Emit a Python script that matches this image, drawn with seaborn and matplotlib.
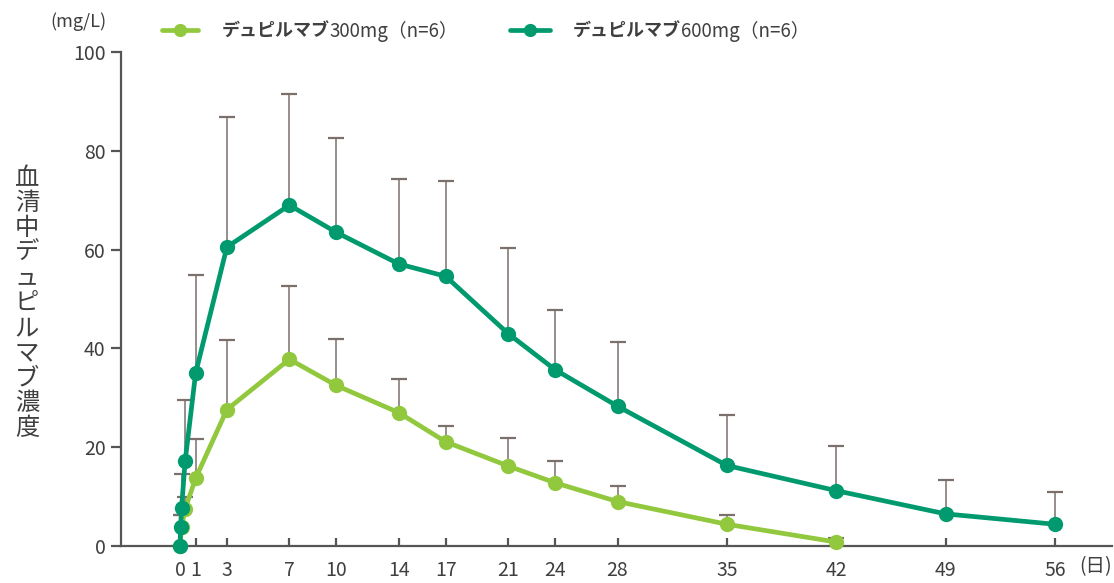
import numpy as np
import pandas as pd
import matplotlib
matplotlib.use("Agg")
import matplotlib.pyplot as plt
from matplotlib.lines import Line2D
import seaborn as sns

# Serum dupilumab concentration (mg/L), mean with upper SD
days_300 = [0, 0.1, 0.33, 1, 3, 7, 10, 14, 17, 21, 24, 28, 35, 42]
mean_300 = [0, 3.8, 7.5, 13.7, 27.6, 37.8, 32.5, 27.0, 21.1, 16.2, 12.8, 9.0, 4.4, 0.8]
sd_300 = [0, 2.5, 2.4, 7.9, 14.2, 14.8, 9.4, 6.8, 3.1, 5.7, 4.4, 3.1, 1.9, 0.8]

days_600 = [0, 0.04, 0.1, 0.33, 1, 3, 7, 10, 14, 17, 21, 24, 28, 35, 42, 49, 56]
mean_600 = [0, 3.8, 7.7, 17.2, 35.0, 60.5, 69.0, 63.5, 57.1, 54.6, 43.0, 35.7, 28.3, 16.3, 11.2, 6.5, 4.4]
sd_600 = [0, 2.5, 6.9, 12.3, 19.9, 26.3, 22.5, 19.1, 17.2, 19.3, 17.3, 12.1, 13.0, 10.2, 9.0, 6.9, 6.5]

x_ticks = [0, 1, 3, 7, 10, 14, 17, 21, 24, 28, 35, 42, 49, 56]
y_ticks = [0, 20, 40, 60, 80, 100]

dose_names = ["300mg（n=6）", "600mg（n=6）"]
drug_name = "デュピルマブ"
y_label = "血清中デュピルマブ濃度"
y_unit = "(mg/L)"
x_unit = "(日)"

c300 = "#92c83e"
c600 = "#009a6e"
err_c = "#7b706c"
txt_c = "#3f3f3f"
axis_c = "#555555"

sns.set_theme(style="white")
plt.rcParams["font.family"] = ["Noto Sans CJK JP", "DejaVu Sans"]

df = pd.concat([
    pd.DataFrame({"day": days_300, "conc": mean_300, "sd": sd_300, "dose": dose_names[0]}),
    pd.DataFrame({"day": days_600, "conc": mean_600, "sd": sd_600, "dose": dose_names[1]}),
], ignore_index=True)
df["upper"] = df["conc"] + df["sd"]

W, H = 1114, 583
fig = plt.figure(figsize=(W / 100, H / 100), dpi=100)
ax = fig.add_axes([121 / W, (H - 546) / H, (1112 - 121) / W, (546 - 52) / H])

# upper-only SD bars behind the lines
ax.vlines(df["day"], df["conc"], df["upper"], colors=err_c, linewidth=1.1, zorder=1)
ax.plot(df["day"], df["upper"], linestyle="none", marker="_", markersize=11,
        markeredgewidth=1.6, color=err_c, zorder=1, clip_on=False)

sns.lineplot(data=df, x="day", y="conc", hue="dose", palette=[c300, c600],
             marker="o", markersize=11, markeredgewidth=0, linewidth=3.4,
             ax=ax, legend=False, zorder=3)
for ln in ax.lines:
    ln.set_clip_on(False)

ax.set_xlim(-(180 - 121) / 15.625, (1112 - 180) / 15.625)
ax.set_ylim(0, 100)
ax.set_xticks(x_ticks)
ax.set_yticks(y_ticks)
ax.set_xlabel("")
ax.set_ylabel("")
for s in ["top", "right"]:
    ax.spines[s].set_visible(False)
for s in ["left", "bottom"]:
    ax.spines[s].set_color(axis_c)
    ax.spines[s].set_linewidth(1.6)
ax.tick_params(axis="x", direction="in", length=6, width=1.6, color=axis_c,
               labelsize=14, labelcolor=txt_c, pad=10, bottom=True)
ax.tick_params(axis="y", direction="out", length=7, width=1.6, color=axis_c,
               labelsize=14, labelcolor=txt_c, pad=4, left=True)

# units
fig.text(78 / W, 1 - 22 / H, y_unit, ha="center", va="center", fontsize=13, color=txt_c)
fig.text(1096 / W, 1 - 567 / H, x_unit, ha="center", va="center", fontsize=14, color=txt_c)

# vertical stacked y label
n = len(y_label)
top_c, bot_c = 178, 428
for i, ch in enumerate(y_label):
    yc = top_c + (bot_c - top_c) * i / (n - 1)
    fig.text(27 / W, 1 - yc / H, ch, ha="center", va="center", fontsize=17.5, color=txt_c)

# legend: one entry per dose, bold drug name followed by regular dose text
name_texts = []
for col, x0, hl in [(c300, 162, 2.0), (c600, 510, 2.2)]:
    h = Line2D([], [], color=col, marker="o", markersize=9.5, linewidth=3.4, markeredgewidth=0)
    leg = fig.legend([h], [drug_name], loc="center left", bbox_to_anchor=(x0 / W, 1 - 31 / H),
                     frameon=False, borderpad=0, borderaxespad=0, handlelength=hl,
                     handletextpad=1.3, prop={"size": 13, "weight": "bold"})
    t = leg.get_texts()[0]
    t.set_color(txt_c)
    name_texts.append(t)

fig.canvas.draw()
inv = fig.transFigure.inverted()
for t, name in zip(name_texts, dose_names):
    bb = t.get_window_extent()
    xf, yf = inv.transform((bb.x1, (bb.y0 + bb.y1) / 2))
    fig.text(xf, yf, name, ha="left", va="center", fontsize=13.5, color=txt_c)

fig.savefig("out.png", dpi=100, facecolor="white")
